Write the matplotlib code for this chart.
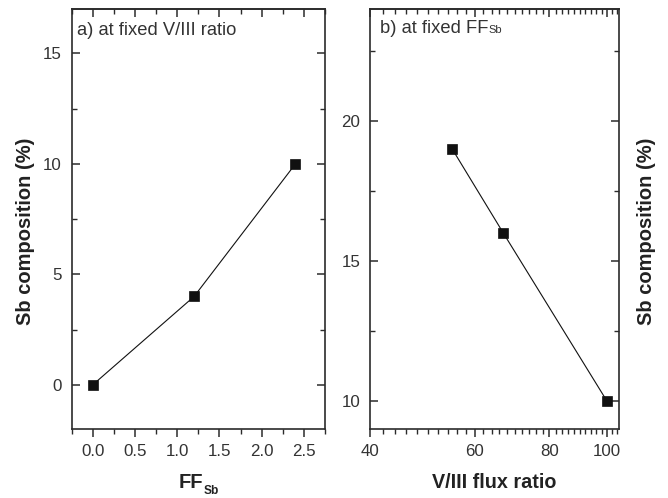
import numpy as np
import matplotlib
matplotlib.use("Agg")
import matplotlib.pyplot as plt
from matplotlib.ticker import MultipleLocator, NullFormatter, FixedLocator
from matplotlib.offsetbox import TextArea, HPacker, AnchoredOffsetbox

# panel a) Sb composition vs Sb flux fraction, fixed V/III ratio
ff_sb = [0.0, 1.2, 2.4]
sb_a = [0.0, 4.0, 10.0]

# panel b) Sb composition vs V/III flux ratio, fixed FF_Sb
v3_ratio = [55, 67, 100]
sb_b = [19.0, 16.0, 10.0]

b_major = [40, 60, 80, 100]
b_major_labels = ["40", "60", "80", "100"]
b_minor = list(range(42, 105, 2))

plt.rcParams['font.family'] = ['Liberation Sans', 'DejaVu Sans']

spine_c = '#2b2b2b'
text_c = '#333333'
label_c = '#222222'

fig = plt.figure(figsize=(6.68, 4.98), dpi=100)
ax1 = fig.add_axes([0.1073, 0.1386, 0.3792, 0.8427])
ax2 = fig.add_axes([0.5539, 0.1386, 0.3728, 0.8427])


def style(ax):
    for s in ax.spines.values():
        s.set_linewidth(1.2)
        s.set_color(spine_c)
    ax.tick_params(axis='y', which='both', direction='in', left=True, right=True,
                   color=spine_c, labelsize=12.2, labelcolor=text_c, pad=7)
    ax.tick_params(axis='x', which='both', direction='out', top=False,
                   color=spine_c, labelsize=12.2, labelcolor=text_c, pad=5)
    ax.tick_params(which='major', length=6, width=1.1)
    ax.tick_params(which='minor', length=3.5, width=1.0)


def top_ticks(ax, major, minor):
    top = ax.secondary_xaxis('top')
    top.xaxis.set_major_locator(major)
    top.xaxis.set_minor_locator(minor)
    top.xaxis.set_minor_formatter(NullFormatter())
    top.tick_params(which='both', direction='in', labeltop=False, color=spine_c)
    top.tick_params(which='major', length=6, width=1.1)
    top.tick_params(which='minor', length=3.5, width=1.0)
    top.spines['top'].set_linewidth(1.2)
    top.spines['top'].set_color(spine_c)


# ---- panel a
ax1.plot(ff_sb, sb_a, color='#111111', lw=0.8, marker='s', ms=7.5,
         mfc='#111111', mec='#111111', mew=0.5)
ax1.set_xlim(-0.25, 2.75)
ax1.set_ylim(-2, 17)
ax1.xaxis.set_major_locator(MultipleLocator(0.5))
ax1.xaxis.set_minor_locator(MultipleLocator(0.25))
ax1.yaxis.set_major_locator(MultipleLocator(5))
ax1.yaxis.set_minor_locator(MultipleLocator(2.5))
ax1.xaxis.set_major_formatter(plt.FuncFormatter(lambda v, p: f"{v:.1f}"))
style(ax1)
top_ticks(ax1, MultipleLocator(0.5), MultipleLocator(0.25))

# x label FF with a dropped subscript Sb
ax1.text(0.518, -0.141, 'FF', transform=ax1.transAxes, fontsize=14.5,
         fontweight='bold', color=label_c, ha='right', va='baseline')
ax1.text(0.522, -0.156, 'Sb', transform=ax1.transAxes, fontsize=8.6,
         fontweight='bold', color=label_c, ha='left', va='baseline')
ax1.set_ylabel('Sb composition (%)', fontsize=14.5, fontweight='bold', color=label_c)
ax1.yaxis.set_label_coords(-0.145, 0.47)
ax1.text(0.022, 0.939, 'a) at fixed V/III ratio', transform=ax1.transAxes,
         fontsize=13.2, color=text_c, va='baseline', ha='left')

# ---- panel b
ax2.plot(v3_ratio, sb_b, color='#111111', lw=0.8, marker='s', ms=7.5,
         mfc='#111111', mec='#111111', mew=0.5)
ax2.set_xscale('log')
ax2.set_xlim(40, 104.8)
ax2.set_ylim(9, 24)
ax2.xaxis.set_major_locator(FixedLocator(b_major))
ax2.set_xticklabels(b_major_labels)
ax2.xaxis.set_minor_locator(FixedLocator(b_minor))
ax2.xaxis.set_minor_formatter(NullFormatter())
ax2.yaxis.set_major_locator(MultipleLocator(5))
ax2.yaxis.set_minor_locator(MultipleLocator(2.5))
style(ax2)
top_ticks(ax2, FixedLocator(b_major), FixedLocator(b_minor))

ax2.set_xlabel('V/III flux ratio', fontsize=14.2, fontweight='bold', color=label_c)
ax2.xaxis.set_label_coords(0.5, -0.105)
ax2.yaxis.set_label_position('right')
ax2.set_ylabel('Sb composition (%)', fontsize=14.5, fontweight='bold', color=label_c)
ax2.yaxis.set_label_coords(1.072, 0.47)

title_b = HPacker(children=[TextArea('b) at fixed FF', textprops=dict(fontsize=13.2, color=text_c)),
                            TextArea('Sb', textprops=dict(fontsize=8, color=text_c))],
                  align='baseline', pad=0, sep=0)
ab = AnchoredOffsetbox(loc='upper left', child=title_b, pad=0, borderpad=0, frameon=False,
                       bbox_to_anchor=(0.04, 0.975), bbox_transform=ax2.transAxes)
ax2.add_artist(ab)

fig.savefig('out.png', dpi=100)
